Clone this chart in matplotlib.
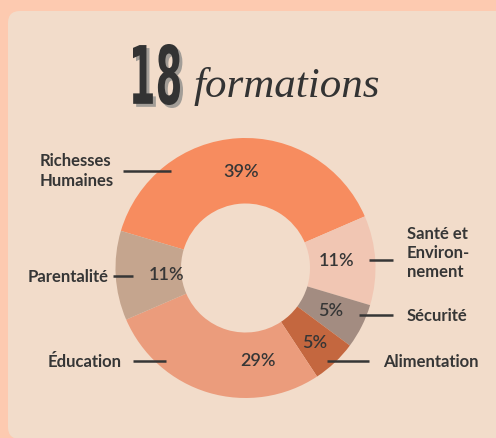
import matplotlib.pyplot as plt
from matplotlib.patches import FancyBboxPatch, PathPatch
from matplotlib.textpath import TextPath
from matplotlib.font_manager import FontProperties
from matplotlib.transforms import Affine2D

# Data: 18 formations split by domain
categories = ['Richesses\nHumaines', 'Santé et\nEnviron-\nnement', 'Sécurité',
              'Alimentation', 'Éducation', 'Parentalité']
counts = [7, 2, 1, 1, 5, 2]
pct_labels = ['39%', '11%', '5%', '5%', '29%', '11%']
colors = ['#f78c5f', '#f1c6b3', '#a38c81', '#c4673f', '#eb9c7c', '#c5a58e']

W, H = 496, 439
dark = '#363636'


def Y(y):
    # pixel row (from top) -> data y
    return H - y


fig = plt.figure(figsize=(W / 100, H / 100), dpi=100)
fig.patch.set_facecolor('#fdcab0')
ax = fig.add_axes([0, 0, 1, 1])

# inner card
card = FancyBboxPatch((8, Y(440)), 500, 428, boxstyle='round,pad=0,rounding_size=12',
                      fc='#f2dcca', ec='none', zorder=0)
ax.add_patch(card)

# donut
ax.pie(counts, colors=colors, startangle=163.4, counterclock=False,
       radius=130, center=(245.5, Y(269)),
       wedgeprops=dict(width=65.5, linewidth=0))
ax.set_xlim(0, W)
ax.set_ylim(0, H)
ax.axis('off')

# percent labels inside ring
pct_pos = [(241, 172), (337, 261), (331, 311), (315, 343), (258, 361), (167, 275)]
for (x, y), t in zip(pct_pos, pct_labels):
    ax.text(x, Y(y), t, ha='center', va='center', fontsize=13,
            family='Lato', fontweight='semibold', color=dark)

# category labels and leader lines
label_pos = [(40, 171, 'left'), (407, 253, 'left'), (407, 316, 'left'),
             (383, 362, 'left'), (122, 362, 'right'), (109, 277, 'right')]
lines = [(123, 171, 172), (369, 393, 261), (359, 393, 316),
         (327, 369, 362), (133, 166, 362), (113, 133, 277)]
for (x, y, ha), t in zip(label_pos, categories):
    ax.text(x, Y(y), t, ha=ha, va='center', fontsize=12, family='Lato',
            fontweight='bold', color=dark, linespacing=1.25)
for x0, x1, y in lines:
    ax.plot([x0, x1], [Y(y), Y(y)], color=dark, lw=1.8, solid_capstyle='butt')

# title: narrow "18" with a grey drop shadow
tp = TextPath((0, 0), '18', size=100, prop=FontProperties(family='DejaVu Sans', weight='bold'))
bb = tp.get_extents()
x0, x1, ytop, ybot = 133, 180, 45, 106
tr = (Affine2D().translate(-bb.x0, -bb.y0)
      .scale((x1 - x0) / bb.width, (ybot - ytop) / bb.height)
      .translate(x0, Y(ybot)))
path18 = tr.transform_path(tp)
shadow = Affine2D().translate(3, -3).transform_path(path18)
ax.add_patch(PathPatch(shadow, fc='#a29d97', ec='none', zorder=3))
ax.add_patch(PathPatch(path18, fc='#333333', ec='none', zorder=4))

ax.text(287, Y(86), 'formations', ha='center', va='center', fontsize=31,
        family='Liberation Serif', fontstyle='italic', color='#333333')

fig.savefig('out.png', dpi=100, facecolor=fig.get_facecolor())
